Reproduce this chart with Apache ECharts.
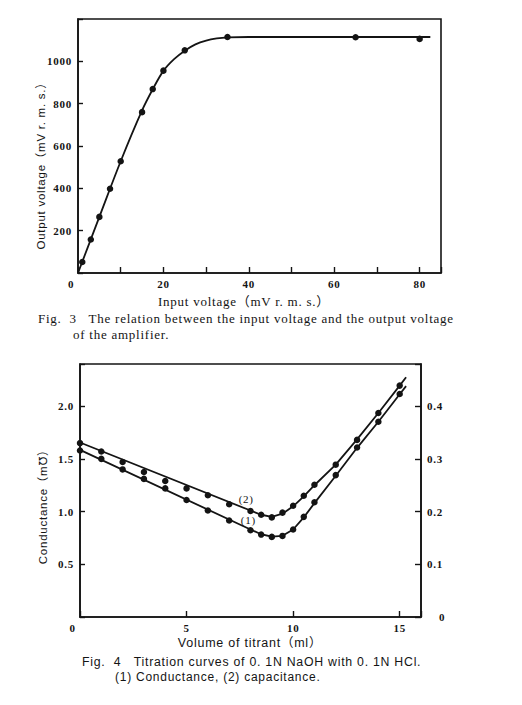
<!DOCTYPE html>
<html>
<head>
<meta charset="utf-8">
<script src="https://cdn.jsdelivr.net/npm/echarts@6/dist/echarts.min.js"></script>
<style>
html, body { margin: 0; padding: 0; background: #fff; }
#main { width: 522px; height: 705px; }
/* the printed figure uses loose letter spacing */
#main text { letter-spacing: 0.75px; }
</style>
</head>
<body>
<div id="main"></div>
<script>
// Fig. 3 data: input voltage vs output voltage (mV r.m.s.)
var inputV = [1, 3, 5, 7.5, 10, 15, 17.5, 20, 25, 35, 65, 80];
var outputV = [52, 158, 265, 398, 528, 760, 869, 956, 1052, 1115, 1114, 1106];
// fitted curve drawn through the points
var curveX = [0, 5, 10, 15, 17.5, 20, 22.5, 25, 27.5, 30, 32.5, 35, 40, 82.5];
var curveY = [0, 265, 528, 768, 868, 955, 1010, 1050, 1080, 1098, 1108, 1113, 1115, 1115];

// Fig. 4 data: titration curves
var titrant = [0, 1, 2, 3, 4, 5, 6, 7, 8, 8.5, 9, 9.5, 10, 10.5, 11, 12, 13, 14, 15];
var conductance = [1.58, 1.50, 1.40, 1.31, 1.22, 1.11, 1.01, 0.915, 0.823, 0.782, 0.760, 0.769, 0.83, 0.95, 1.089, 1.346, 1.608, 1.852, 2.115];
var capacitance = [0.330, 0.314, 0.294, 0.275, 0.258, 0.244, 0.231, 0.214, 0.201, 0.194, 0.189, 0.198, 0.211, 0.230, 0.251, 0.289, 0.336, 0.387, 0.439];
var condLineX = [0, 8, 8.5, 9, 9.5, 10, 10.5, 11, 12, 13, 14, 15, 15.3];
var condLineY = [1.585, 0.83, 0.785, 0.762, 0.77, 0.83, 0.945, 1.08, 1.34, 1.605, 1.852, 2.113, 2.19];
var capLineX = [0, 8, 8.5, 9, 9.5, 10, 10.5, 11, 12, 13, 14, 15, 15.3];
var capLineY = [0.331, 0.202, 0.194, 0.190, 0.196, 0.210, 0.229, 0.250, 0.289, 0.337, 0.387, 0.439, 0.455];
var curveTags = ['(2)', '(1)'];
var tagX = [7.8, 7.9];
var tagY = [1.115, 0.918];

function zip(a, b) {
    var out = [];
    for (var i = 0; i < a.length; i++) out.push([a[i], b[i]]);
    return out;
}

var ink = '#141414';
var serif = '"Liberation Serif", "Noto Sans CJK SC", serif';
var sans = '"Liberation Sans", "DejaVu Sans", "Noto Sans CJK SC", sans-serif';

var myChart = echarts.init(document.getElementById('main'), null, { renderer: 'svg' });

var tickLabel = { color: ink, fontFamily: serif, fontSize: 11, fontWeight: 'bold' };
var dot = { color: ink, opacity: 1 };

option = {
    backgroundColor: '#fff',
    animation: false,
    color: [ink],
    grid: [
        { left: 78, top: 19, width: 363, height: 254, show: true, borderColor: ink, borderWidth: 1.6 },
        { left: 80, top: 364, width: 341, height: 253, show: true, borderColor: ink, borderWidth: 1.6 }
    ],
    xAxis: [{
        gridIndex: 0,
        type: 'value',
        min: 0, max: 85, interval: 10,
        axisLine: { lineStyle: { color: ink, width: 1.6 } },
        axisTick: { inside: true, length: 6, lineStyle: { color: ink, width: 1.4 } },
        splitLine: { show: false },
        axisLabel: Object.assign({}, tickLabel, {
            margin: 5,
            formatter: function (v) {
                if (v === 0) return '{z|0}';
                return (v % 20 === 0 && v <= 80) ? String(v) : '';
            },
            rich: { z: { padding: [0, 14, 0, 0], fontFamily: serif, fontSize: 11, fontWeight: 'bold', color: ink } }
        })
    }, {
        gridIndex: 1,
        type: 'value',
        min: 0, max: 16, interval: 5,
        axisLine: { lineStyle: { color: ink, width: 1.6 } },
        axisTick: { inside: true, length: 6, lineStyle: { color: ink, width: 1.4 } },
        splitLine: { show: false },
        axisLabel: Object.assign({}, tickLabel, {
            margin: 5,
            formatter: function (v) {
                if (v === 0) return '{z|0}';
                return (v % 5 === 0) ? String(v) : '';
            },
            rich: { z: { padding: [0, 15, 0, 0], fontFamily: serif, fontSize: 11, fontWeight: 'bold', color: ink } }
        })
    }],
    yAxis: [{
        gridIndex: 0,
        type: 'value',
        min: 0, max: 1200, interval: 200,
        axisLine: { lineStyle: { color: ink, width: 1.6 } },
        axisTick: { inside: true, length: 5, lineStyle: { color: ink, width: 1.4 } },
        splitLine: { show: false },
        axisLabel: Object.assign({}, tickLabel, {
            margin: 6,
            formatter: function (v) { return (v > 0 && v < 1100) ? String(v) : ''; }
        })
    }, {
        gridIndex: 1,
        type: 'value',
        min: 0, max: 2.4, interval: 0.5,
        axisLine: { lineStyle: { color: ink, width: 1.6 } },
        axisTick: { inside: true, length: 5, lineStyle: { color: ink, width: 1.4 } },
        splitLine: { show: false },
        axisLabel: Object.assign({}, tickLabel, {
            margin: 6,
            formatter: function (v) { return (v > 0 && v < 2.2) ? v.toFixed(1) : ''; }
        })
    }, {
        gridIndex: 1,
        type: 'value',
        position: 'right',
        min: 0, max: 0.48, interval: 0.1,
        axisLine: { lineStyle: { color: ink, width: 1.6 } },
        axisTick: { inside: true, length: 6, lineStyle: { color: ink, width: 1.4 } },
        splitLine: { show: false },
        axisLabel: Object.assign({}, tickLabel, {
            margin: 6,
            formatter: function (v) {
                if (v === 0) return '{z|0}';
                return v < 0.45 ? v.toFixed(1) : '';
            },
            rich: { z: { padding: [0, 0, 0, 12], fontFamily: serif, fontSize: 11, fontWeight: 'bold', color: ink } }
        })
    }],
    series: [{
        name: 'curve',
        type: 'line',
        xAxisIndex: 0, yAxisIndex: 0,
        data: zip(curveX, curveY),
        smooth: 0.35,
        showSymbol: false,
        lineStyle: { color: ink, width: 1.8 }
    }, {
        name: 'output',
        type: 'scatter',
        xAxisIndex: 0, yAxisIndex: 0,
        data: zip(inputV, outputV),
        symbolSize: 6.5,
        itemStyle: dot
    }, {
        name: 'conductance line',
        type: 'line',
        xAxisIndex: 1, yAxisIndex: 1,
        data: zip(condLineX, condLineY),
        showSymbol: false,
        lineStyle: { color: ink, width: 1.8 }
    }, {
        name: 'conductance',
        type: 'scatter',
        xAxisIndex: 1, yAxisIndex: 1,
        data: zip(titrant, conductance),
        symbolSize: 6.5,
        itemStyle: dot
    }, {
        name: 'capacitance line',
        type: 'line',
        xAxisIndex: 1, yAxisIndex: 2,
        data: zip(capLineX, capLineY),
        showSymbol: false,
        lineStyle: { color: ink, width: 1.8 }
    }, {
        name: 'capacitance',
        type: 'scatter',
        xAxisIndex: 1, yAxisIndex: 2,
        data: zip(titrant, capacitance),
        symbolSize: 6.5,
        itemStyle: dot
    }],
    graphic: [
        { type: 'text', x: 244, y: 301, style: { text: 'Input voltage（mV r. m. s.）', font: '13px ' + serif, fill: ink, textAlign: 'center', textVerticalAlign: 'middle' } },
        { type: 'text', x: 41, y: 163, rotation: Math.PI / 2, style: { text: 'Output voltage（mV r. m. s.）', font: '11.5px ' + sans, fill: ink, textAlign: 'center', textVerticalAlign: 'middle' } },
        { type: 'text', x: 38, y: 318, style: { text: 'Fig.  3   The relation between the input voltage and the output voltage', font: '13px ' + serif, fill: ink, textAlign: 'left', textVerticalAlign: 'middle' } },
        { type: 'text', x: 73, y: 334, style: { text: 'of the amplifier.', font: '13px ' + serif, fill: ink, textAlign: 'left', textVerticalAlign: 'middle' } },
        { type: 'text', x: 43, y: 504, rotation: Math.PI / 2, style: { text: 'Conductance（m℧）', font: '11.5px ' + sans, fill: ink, textAlign: 'center', textVerticalAlign: 'middle' } },
        { type: 'text', x: 250, y: 643, style: { text: 'Volume of titrant（ml）', font: '12.5px ' + sans, fill: ink, textAlign: 'center', textVerticalAlign: 'middle' } },
        { type: 'text', x: 82, y: 662, style: { text: 'Fig.  4   Titration curves of 0. 1N NaOH with 0. 1N HCl.', font: '12.3px ' + sans, fill: ink, textAlign: 'left', textVerticalAlign: 'middle' } },
        { type: 'text', x: 115, y: 677, style: { text: '(1) Conductance, (2) capacitance.', font: '12px ' + sans, fill: ink, textAlign: 'left', textVerticalAlign: 'middle' } }
    ]
};

myChart.setOption(option);

// curve tags "(1)" / "(2)" placed through the bottom chart's own scales
var tagGraphics = curveTags.map(function (t, i) {
    var p = myChart.convertToPixel({ xAxisIndex: 1, yAxisIndex: 1 }, [tagX[i], tagY[i]]);
    return {
        type: 'text', x: p[0], y: p[1],
        style: { text: t, font: '11px ' + serif, fill: ink, textAlign: 'center', textVerticalAlign: 'middle' }
    };
});
myChart.setOption({ graphic: option.graphic.concat(tagGraphics) });
</script>
</body>
</html>
